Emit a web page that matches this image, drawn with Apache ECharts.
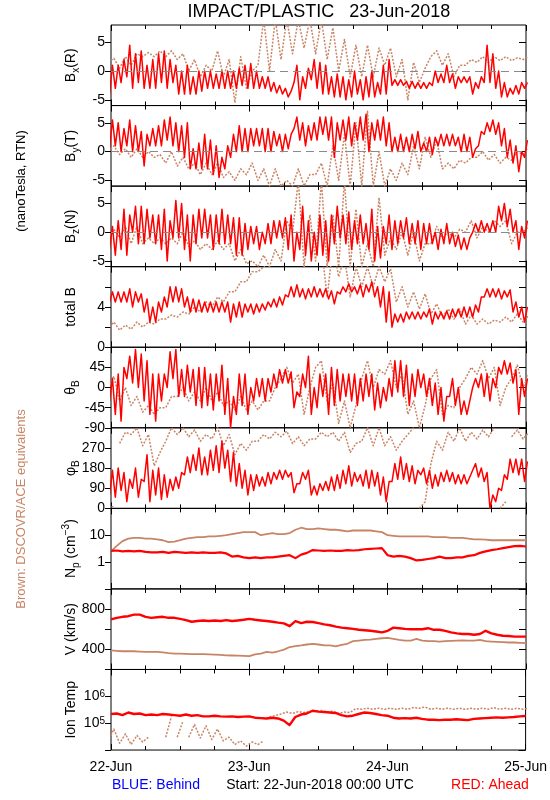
<!DOCTYPE html>
<html><head><meta charset="utf-8">
<script src="https://cdn.jsdelivr.net/npm/echarts@6/dist/echarts.min.js"></script>
<style>html,body{margin:0;padding:0;background:#fff}#c{width:550px;height:800px}</style>
</head><body><div id="c"></div>
<script>
// ---------- tick / category labels ----------
const dayLabels = {0:'22-Jun', 24:'23-Jun', 48:'24-Jun', 72:'25-Jun'};
const bTicks = [-5, 0, 5];

// ---------- hourly data (h0..h72), red = STEREO Ahead ----------
const bxRedLo = [-4,-3,-2,-1,-3,-2,-3,-3,-3,-2,-3,-2,
 -4,-4,-4,-4,-3.5,-3,-3,-3,-3,-3,-3,-2.5,
 -3,-3,-3,-3,-3.5,-3.8,-4,-4.5,-2,-5,-3,-1.5,
 -3,-4,-4,-4.5,-4.5,-5,-4.5,-4,-5,-4.5,-4.5,-4,
 -4,-2.5,-2.5,-2.5,-3,-3,-3,-3,-2.5,-2,-2,-2,
 -3,-2,-2,-4,-3,-2,-2,-3,-4.5,-4.5,-4,-4,
 -3];
const bxRedHi = [1,1,2,4.5,3,3.5,1,2,3,3.5,2,1,
 0,1,-1,0,0,0,-0.5,0,0,0,0.5,1,
 1.3,0,-1,-1,-2,-2.5,-3,-3.5,1,-1,0.5,2,
 1.5,1,-1,-0.5,-1,-1.5,0,-1.5,-1,0,-2,1,
 2,-1.5,-1.5,-1.8,-1.8,-2,-2,-2,0,-0.5,1,-0.5,
 -1,-1,-1,-2,-1,4.5,3,0,-2,-3,-2.5,-2,
 -2];
const byRedLo = [0.5,1,0,1,0,0,-2.5,1,1,1,2,1,
 0,-1,-3,-3,-3,-3,-4,-4.5,-3,-1,0,0,
 0,1,1,0,0,1,0,0.5,4,2,1,2,
 2,3,2,-1,2,2,1,2,2,0,2,2,
 1,0,0,0,0,0.5,0,0,-0.5,1,1,1,
 1,0,0,-1,1,3,3.5,3,1,-1,-2,-3.5,
 -1];
const byRedHi = [5.5,5,4,5.5,4.5,3.5,3,4,4.5,5.5,6,5,
 4.5,5,0.5,1.5,3,2,1,-1,1,3,4.5,4,
 4,4,4,4,3.5,3,3,3,6,5,4.5,5,
 6,6,6,5,5.5,6,5,6,6.5,5,5.5,6,
 5,2.5,3,2.5,3,3.5,1.5,2.5,2.5,3,3,3,
 2.5,3,2.5,0.5,3.5,5,5.5,5,4,2,1,0,
 2];
const bzRedLo = [-3,-4,-3,-4,0,-2,-2,-1,-2,-3,-5,-1,
 -1,-3,-5,-2,-1,-1,-3,-2,-2,-2,-4,-4,
 -3,-2,-3,-2,-2,-1,-1,-3,-5,-3,-4,-5,
 -4,-4,-5,-2,-1,-2,-3,-2,-2,-3,-5,-4.5,
 -2,-3,-2,-1,-2,-2,-3,-2,-2,-3,-2,-2,
 -2.5,-3,-3,0,0,0,0,0,2,1,0,-3,
 -1];
const bzRedHi = [1,2,4,3,4.5,4.5,4,3,3,4,2,5.5,
 5,3,3,4,4,3,3,4,3,2.5,2.5,1.5,
 1,1,0,1.5,2,2,2.5,3,0,4.5,2,0,
 3,2,3,4.5,3,3.5,2,3,1.5,4,1,1,
 3,2,2,2.5,1.5,2,1.5,1.5,0,0.5,1.5,0,
 -0.5,-1,-1,1.5,2,1.5,2,4.5,5,4,2,1,
 2];
const btRedLo = [4.5,4.5,4.5,4.5,4,4.5,3.5,2.5,2.5,3.5,4,4.5,
 4.5,4,3.5,3.5,3.5,3.5,3.5,3.5,3.5,2.5,3,3,
 3.5,3.3,3.5,3.7,4,4,4.2,5,5,5,4.8,5,
 5,5,4.8,4.3,5.3,5.5,5.5,5.3,5,5.5,5,4,
 2.5,2,2.5,2.5,2.8,2.8,2.8,3,2.3,2.8,2.8,2.8,
 3,3,3,3,3.5,5,5,5,4.8,5,3.5,3,
 2.5];
const btRedHi = [5.5,5.5,5.5,5.8,5.5,5.3,4.8,4,4.5,5,6,6,
 5.8,5,4.8,4.7,4.5,4.5,4.5,4.5,4.5,4.3,4.5,4.3,
 4.3,4.3,4.3,4.5,4.8,5,5.2,6,6.2,5.8,5.8,6,
 5.8,5.8,5.6,5.5,6,6.3,6,6.2,6.2,6.5,6,6,
 5.5,3.3,3.3,3.5,3.5,3.5,3.5,3.8,3.5,3.5,3.6,3.8,
 3.8,4,4,4.2,5,5.8,5.8,5.8,5.6,5.7,4.5,4,
 4];
const thRedLo = [-30,-60,-75,20,10,0,-30,-60,-75,-30,0,20,
 -20,-20,-10,-40,-45,-40,-50,-30,-60,-90,-60,-40,
 -60,-30,-20,-30,-10,0,10,10,-45,-20,0,-60,
 -45,-20,-60,-40,-30,-20,-30,-40,-30,-20,-50,-45,
 -30,-20,-10,-20,-40,-20,0,-20,-40,-60,-75,-20,
 -40,-60,-60,0,0,-20,-30,0,30,30,10,-60,
 -20];
const thRedHi = [20,30,45,70,85,75,60,30,30,30,80,85,
 40,50,40,45,45,30,30,50,20,-20,30,30,
 0,20,20,20,30,40,40,35,-10,30,70,0,
 30,30,45,40,30,30,30,20,30,30,10,0,
 20,60,60,50,30,40,30,20,10,0,-20,20,
 0,-30,-30,20,30,30,20,45,60,55,40,20,
 20];
const phRedLo = [60,50,80,30,90,50,120,30,60,40,50,80,
 90,150,160,170,150,150,170,160,180,120,100,90,
 60,80,100,100,110,130,130,140,70,110,130,60,
 60,80,80,80,90,110,100,120,100,90,100,60,
 30,120,130,130,120,110,150,110,90,100,120,120,
 110,110,110,170,140,120,0,30,80,130,160,150,
 120];
const phRedHi = [170,180,160,130,180,130,240,170,180,150,130,140,
 160,230,240,270,230,260,280,300,260,250,200,170,
 150,150,140,160,160,170,170,160,110,160,170,100,
 110,120,140,150,170,190,160,150,170,170,160,140,
 120,200,230,200,190,170,180,170,150,160,170,160,
 150,150,140,200,180,160,60,90,150,220,220,220,
 210];
const npRed = [2.6,2.7,2.5,2.6,2.5,2.6,2.4,2.3,2.3,2.4,2.2,2.4,
 2.3,2.2,2.3,2.2,2.3,2.2,2.2,2.3,2.1,1.6,1.7,1.5,
 1.4,1.5,1.4,1.5,1.5,1.6,1.7,1.8,1.4,1.9,2.2,2.8,
 2.7,2.6,2.7,2.6,2.6,2.8,2.7,2.8,3.0,3.1,3.2,3.3,
 1.8,1.6,1.7,1.6,1.4,1.15,1.2,1.3,1.4,1.6,1.4,1.4,
 1.5,1.5,1.7,1.8,2.2,2.5,2.8,3.0,3.3,3.6,3.9,4.0,
 3.8];
const vRed = [697,713,723,729,745,745,723,713,719,723,713,713,
 703,690,674,681,687,681,687,681,690,681,687,694,
 703,694,687,681,674,665,658,630,680,660,674,671,
 661,648,639,626,616,610,603,594,590,584,577,568,
 584,616,610,603,600,600,600,610,594,594,584,568,
 558,552,552,545,552,584,558,545,535,532,526,526,
 526];
const tRed = [2.2e5,2.3e5,2.0e5,2.5e5,2.2e5,2.3e5,2.0e5,2.1e5,2.0e5,2.2e5,2.1e5,2.0e5,
 1.9e5,2.1e5,1.9e5,2.0e5,1.8e5,1.8e5,1.9e5,1.8e5,1.75e5,1.8e5,1.7e5,1.75e5,
 1.8e5,1.6e5,1.55e5,1.5e5,1.6e5,1.5e5,1.25e5,0.85e5,1.7e5,2.1e5,2.3e5,2.9e5,
 2.7e5,2.6e5,2.5e5,2.4e5,2.0e5,1.8e5,1.9e5,2.2e5,2.5e5,2.4e5,2.2e5,2.0e5,
 1.9e5,1.6e5,1.5e5,1.55e5,1.5e5,1.6e5,1.45e5,1.35e5,1.35e5,1.3e5,1.35e5,1.35e5,
 1.4e5,1.35e5,1.3e5,1.45e5,1.5e5,1.55e5,1.6e5,1.65e5,1.6e5,1.65e5,1.7e5,1.8e5,
 1.85e5];

// ---------- brown = DSCOVR/ACE equivalents ----------
// 2-hour bins (h0,h2,...,h72) for the noisy quantities
const bxBrnLo = [1.5,0.5,1,2.5,2.5,2.5, 2,0,-1,0,-1,-5.5, -3,1,0,2,3,4, 3,2,0,-1,-1,-1, 1,-1,-5,-2,2.5,1, -1,1,1.5,1.5,1.8,1.8, 2];
const bxBrnHi = [2.2,2.5,3,3.2,3.5,3.5, 3,2,1,3.5,2,2.5, 0,9,9,9,9,9, 9,7.5,5.5,4.5,4.5,4, 4,2,1.5,0.5,3.5,3, 1,2,2.5,2.5,2.5,2.3, 2.5];
const byBrnLo = [0,-0.5,-1,-1,-1,-2, -2.5,-3,-4,-4,-4.5,-5, -4,-5,-6,-6,-6,-6, -4,-6,-5,-6,-6,-6, -6,-5,-4,-3,-1,-3, -3,-2,-1,-1.5,-2,-1.5, -0.5];
const byBrnHi = [1,0.5,0.5,0,-0.5,0, -1,-2,-2,-2,-3.5,-3, -2,-3,-3,-5,-3,-4, -2,1,3,5,7,0, -3,-2,1,2.5,2,-2, -1.5,-1,0,-0.5,-1,0, 0.5];
const bzBrnLo = [-1,-1,-2,-2,-2,-2, -2,-2.5,-3,-3,-3,-5, -5.5,-6,-6,-5,0,-6, -5,-6,-6,-6,-6,-6, -4,-3,-4,-5,-2,-1, -1,0,-1,0,1,-2, 0];
const bzBrnHi = [0.5,1,1,-1,-1,-1, 0,-1.5,-2,-1.5,-2,-3, -5,-4,-3,2,9,3, 9,3,9,4,-2,6, -1,0,0,-2,1,0, 0.5,2,1,2,2,0, 1];
const btBrnLo = [1.7,1.7,1.8,2,2.3,2.8, 3,3.3,3.5,4,4.5,5.5, 6.5,7.5,8.5,9,9,8, 9,5,7,5,6,6, 6.5,4.5,4,3.8,3.3,3, 2.8,2.3,2.3,2.3,2.5,2.5, 2.5];
const btBrnHi = [2.5,2.2,2.5,2.5,2.8,3.2, 3.5,4,4.5,5,5.5,6.5, 7.5,8,9,10,10,9, 10,10,9,8,8,8, 7.8,6,5.5,5.3,4.3,3.8, 3.8,3.2,2.8,2.7,3,3.3, 3.2];
const thBrnLo = [0,-30,-40,-55,-60,-45, -20,-30,-30,-30,-40,-50, -50,-50,-30,20,10,-60, 45,-30,-80,-90,20,0, 30,0,-60,-90,20,-60, -45,20,30,20,-40,20, 0];
const thBrnHi = [25,0,-20,-40,-45,-20, 0,-10,0,-10,-30,-20, -30,-30,0,45,30,0, 60,10,-30,-40,60,40, 60,30,-30,-40,40,-40, 0,45,60,45,0,50, 30];
const phBrnLo = [0,290,330,280,190,300, 330,320,300,310,280,240, 260,300,310,320,290,280, 310,320,300,250,300,280, 280,260,330,0,200,260, 300,300,310,320,0,320, 310];
const phBrnHi = [10,340,360,330,250,360, 360,350,330,360,330,290, 300,330,340,345,320,310, 340,340,340,290,360,360, 320,300,360,30,300,340, 360,340,350,360,30,350, 340];
const tBrnLo = [2e4,1.8e4,1.6e4,2e4,null,3e4, 3e4,3e4,2.8e4,2.5e4,2.2e4,1.6e4, 1.4e4,1.6e4,1.7e5,2.2e5,2.3e5,2.5e5, 2.8e5,2.6e5,2.3e5,2.5e5,3.3e5,3.3e5, 3.3e5,3.3e5,3.3e5,3.6e5,3.3e5,3.3e5, 3.3e5,3.3e5,3.3e5,3.3e5,3.3e5,3.3e5, 3.3e5];
const tBrnHi = [6e4,4e4,3.5e4,3e4,null,1.8e5, 1.2e5,9e4,8e4,6e4,3e4,2.2e4, 2e4,2.2e4,1.9e5,2.6e5,2.7e5,2.8e5, 3e5,2.8e5,2.6e5,3.5e5,3.6e5,3.6e5, 3.6e5,3.6e5,3.8e5,4e5,3.6e5,3.6e5, 3.6e5,3.6e5,3.6e5,3.8e5,3.6e5,3.6e5, 3.6e5];
// hourly smooth quantities
const npBrn = [2.5,4,6,7.5,8,8,7.5,7.5,7,6.5,5.5,5.8,
 6.5,7.5,8,8.5,8.5,9,9,9.5,10,11,12,13,
 13,13,10,11,12,11,11,12,16,19,17,17,
 18,17,16,16,15,14,15,15,15,15,14,13,
 10,9.5,9,9,9,9,9,9,8.5,8.5,8.5,8,
 8,8,7.5,7,7,6.8,6.5,6.5,6.5,6.5,6.5,6.5,
 6.5];
const vBrn = [390,385,381,381,381,378,374,374,374,370,362,358,
 358,355,352,352,352,350,348,345,340,339,338,335,
 332,350,358,374,368,381,397,423,432,439,448,455,
 448,439,439,429,445,455,481,487,494,497,503,510,
 513,503,494,487,487,503,487,481,481,477,481,484,
 487,490,487,487,494,481,477,474,471,468,468,465,
 461];

// ---------- helpers (rendering only) ----------
// each bin's extremes become one up-stroke of a zig-zag trace
function zig(lo, hi, step, brk) {
  const out = []; let prev = null;
  for (let i = 0; i < lo.length; i++) {
    const t = i * step;
    if (lo[i] == null) { out.push([t, null]); prev = null; continue; }
    if (prev != null && brk && brk(prev, lo[i])) out.push([t - step / 2, null]);
    out.push([t - step / 4, lo[i]], [t + step / 4, hi[i]]);
    prev = hi[i];
  }
  return out;
}
const pairs = arr => arr.map((v, i) => [i, v]);
const wrapBrk = (p, a) => Math.abs(p - a) > 180;
const logBrk = (p, a) => Math.abs(Math.log10(a / p)) > 0.6;

const RED = '#ff0000', BRN = '#c88566';
const FONT = "'Liberation Sans', Arial, sans-serif";
const TOP = 25, H = 80.56, LEFT = 111, W = 415;

const panels = [
  {title:'{a|B}{s|x}{a|(R)}', type:'value', min:-6, max:8, custom:bTicks, zero:true,
   red: zig(bxRedLo, bxRedHi, 1), brn: zig(bxBrnLo, bxBrnHi, 2)},
  {title:'{a|B}{s|y}{a|(T)}', type:'value', min:-6, max:8, custom:bTicks, zero:true,
   red: zig(byRedLo, byRedHi, 1), brn: zig(byBrnLo, byBrnHi, 2)},
  {title:'{a|B}{s|z}{a|(N)}', type:'value', min:-6, max:8, custom:bTicks, zero:true,
   red: zig(bzRedLo, bzRedHi, 1), brn: zig(bzBrnLo, bzBrnHi, 2)},
  {title:'{a|total B}', type:'value', min:0, max:8, interval:2, fmt: v => (v === 0 || v === 4) ? String(v) : '',
   red: zig(btRedLo, btRedHi, 1), brn: zig(btBrnLo, btBrnHi, 2)},
  {title:'{a|θ}{s|B}', type:'value', min:-90, max:90, interval:45, fmt: v => v === 90 ? '' : String(v),
   red: zig(thRedLo, thRedHi, 1), brn: zig(thBrnLo, thBrnHi, 2)},
  {title:'{a|φ}{s|B}', type:'value', min:0, max:360, interval:90, fmt: v => v === 360 ? '' : String(v),
   red: zig(phRedLo, phRedHi, 1), brn: zig(phBrnLo, phBrnHi, 2, wrapBrk)},
  {title:'{a|N}{s|p}{a| (cm}{p|−3}{a|)}', type:'log', min:0.1, max:100,
   fmt: v => { const l = Math.round(Math.log10(v)); return l === 0 ? '1' : l === 1 ? '10' : ''; },
   red: pairs(npRed), brn: pairs(npBrn), rw:2.2, bw:1.8, solid:true},
  {title:'{a|V (km/s)}', type:'value', min:200, max:1000, interval:200, fmt: v => (v === 400 || v === 800) ? String(v) : '',
   red: pairs(vRed), brn: pairs(vBrn), rw:2.4, bw:1.8, solid:true},
  {title:'{a|Ion Temp}', type:'log', min:1e4, max:1e7,
   fmt: v => { const l = Math.round(Math.log10(v)); return (l === 5 || l === 6) ? '10{sup|' + l + '}' : ''; },
   red: pairs(tRed), brn: zig(tBrnLo, tBrnHi, 2, logBrk), rw:2.4}
];

const grid = [], xAxis = [], yAxis = [], series = [], graphic = [];
const axisText = {fontSize:14, color:'#000', fontFamily:FONT};

panels.forEach((p, i) => {
  grid.push({left:LEFT, width:W, top:TOP + i * H, height:H, show:true, borderColor:'#000', borderWidth:1, backgroundColor:'transparent'});
  const xBase = {gridIndex:i, type:'value', min:0, max:72, interval:24,
    axisLine:{show:false, onZero:false}, splitLine:{show:false}, minorSplitLine:{show:false},
    axisTick:{show:true, inside:true, length:6, lineStyle:{color:'#000'}},
    minorTick:{show:true, splitNumber:4, length:4, lineStyle:{color:'#000'}}};
  xAxis.push(Object.assign({}, xBase, {position:'bottom',
    axisLabel: i === 8 ? Object.assign({show:true, margin:10, formatter: v => dayLabels[v] || ''}, axisText) : {show:false}}));
  xAxis.push(Object.assign({}, xBase, {position:'top', axisLabel:{show:false}}));

  const yBase = {gridIndex:i, type:p.type, min:p.min, max:p.max, axisLine:{show:false, onZero:false}, splitLine:{show:false}};
  if (p.type === 'log') yBase.logBase = 10;
  if (p.interval) yBase.interval = p.interval;
  const lt = {show:true, inside:false, length:6, lineStyle:{color:'#000'}};
  const rt = {show:true, inside:true, length:7, lineStyle:{color:'#000'}};
  const lab = Object.assign({show:true, margin:6, rich:{sup:{fontSize:10, verticalAlign:'top', lineHeight:10, fontFamily:FONT}}}, axisText);
  if (p.custom) { lt.customValues = p.custom; rt.customValues = p.custom; lab.customValues = p.custom; }
  if (p.fmt) lab.formatter = p.fmt;
  yAxis.push(Object.assign({}, yBase, {position:'left', axisTick:lt, axisLabel:lab}));
  yAxis.push(Object.assign({}, yBase, {position:'right', axisTick:rt, axisLabel:{show:false}}));

  if (p.zero) series.push({type:'line', xAxisIndex:2 * i, yAxisIndex:2 * i, data:[], z:1, silent:true,
    markLine:{silent:true, symbol:['none','none'], animation:false, label:{show:false},
      lineStyle:{color:'#8a8a8a', type:[8,5], width:1}, data:[{yAxis:0}]}});
  series.push({type:'line', xAxisIndex:2 * i, yAxisIndex:2 * i, data:p.brn, showSymbol:false, symbol:'none',
    lineStyle:{color:BRN, width:p.bw || 1.5, type: p.solid ? 'solid' : [2, 1.5], join:'round'},
    z:2, silent:true, clip:true, connectNulls:false});
  series.push({type:'line', xAxisIndex:2 * i, yAxisIndex:2 * i, data:p.red, showSymbol:false, symbol:'none',
    lineStyle:{color:RED, width:p.rw || 1.5, join:'round'}, z:3, silent:true, clip:true});

  graphic.push({type:'text', x:71, y:TOP + H * (i + 0.5), rotation:Math.PI / 2, silent:true,
    style:{text:p.title, align:'center', verticalAlign:'middle', fill:'#000',
      rich:{a:{fontSize:14, fontFamily:FONT, lineHeight:20, fill:'#000'},
            s:{fontSize:10, fontFamily:FONT, lineHeight:11, verticalAlign:'bottom', fill:'#000'},
            p:{fontSize:10, fontFamily:FONT, lineHeight:11, verticalAlign:'top', fill:'#000'}}}});
});

graphic.push(
  {type:'text', x:319, y:12, silent:true, style:{text:'IMPACT/PLASTIC   23-Jun-2018', align:'center', verticalAlign:'middle', fill:'#000', font:'18px ' + FONT}},
  {type:'text', x:21, y:181, rotation:Math.PI / 2, silent:true, style:{text:'(nanoTesla, RTN)', align:'center', verticalAlign:'middle', fill:'#000', font:'13px ' + FONT}},
  {type:'text', x:21, y:509, rotation:Math.PI / 2, silent:true, style:{text:'Brown: DSCOVR/ACE equivalents', align:'center', verticalAlign:'middle', fill:BRN, font:'13px ' + FONT}},
  {type:'text', x:112, y:785, silent:true, style:{text:'BLUE: Behind', align:'left', verticalAlign:'middle', fill:'#0000ff', font:'14px ' + FONT}},
  {type:'text', x:320, y:785, silent:true, style:{text:'Start: 22-Jun-2018 00:00 UTC', align:'center', verticalAlign:'middle', fill:'#000', font:'14px ' + FONT}},
  {type:'text', x:490, y:785, silent:true, style:{text:'RED: Ahead', align:'center', verticalAlign:'middle', fill:'#ff0000', font:'14px ' + FONT}}
);

const chart = echarts.init(document.getElementById('c'), null, {renderer:'canvas'});
chart.setOption({animation:false, backgroundColor:'#fff', grid, xAxis, yAxis, series, graphic});
</script>
</body></html>
